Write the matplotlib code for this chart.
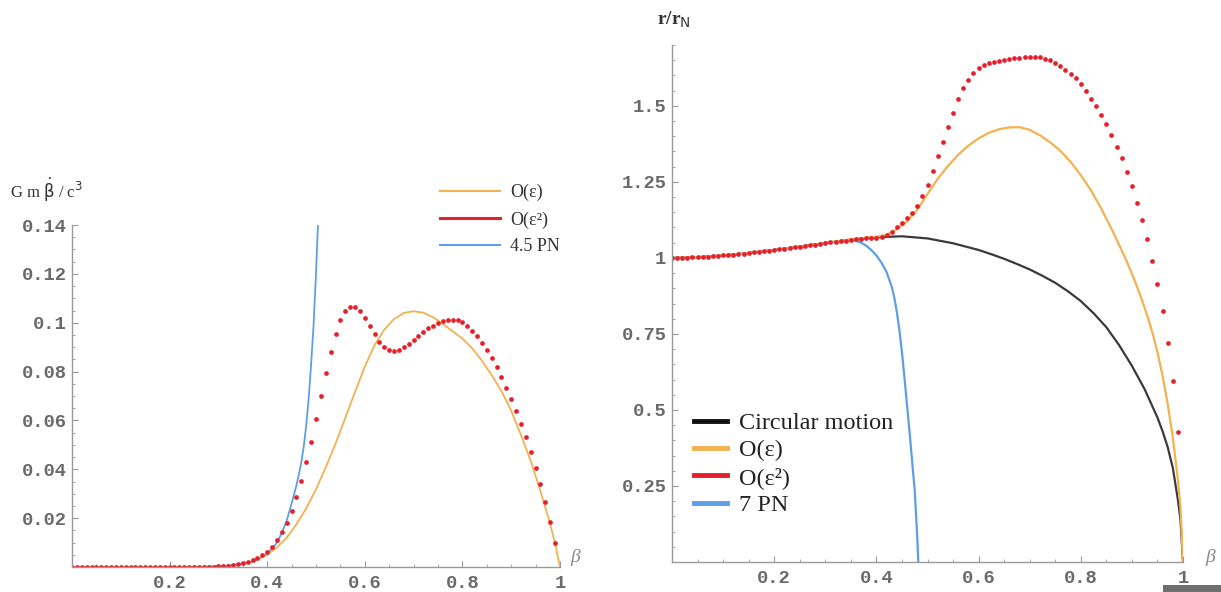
import matplotlib
matplotlib.use("Agg")
import matplotlib.pyplot as plt
import numpy as np
from matplotlib.lines import Line2D
from matplotlib.patches import Rectangle
from matplotlib.ticker import FixedLocator, MultipleLocator

# ---------------- data: left panel (G m beta-dot / c^3) ----------------
left_red_beta = np.arange(100) / 100.0          # sample positions of the dotted O(eps^2) curve
left_red = [0]*28 + [
    0.0001, 0.0002, 0.0003, 0.0004, 0.0006, 0.0008, 0.0011, 0.0015, 0.0021, 0.0028,
    0.0038, 0.0049, 0.0063, 0.0083, 0.0111, 0.0143, 0.0182, 0.0231, 0.0286, 0.0353,
    0.0429, 0.0513, 0.0604, 0.0700, 0.0793, 0.0881, 0.0954, 0.1011, 0.1047, 0.1063,
    0.1063, 0.1047, 0.1019, 0.0988, 0.0954, 0.0922, 0.0899, 0.0888, 0.0884, 0.0888,
    0.0899, 0.0912, 0.0929, 0.0947, 0.0963, 0.0977, 0.0988, 0.0997, 0.1005, 0.1010,
    0.1012, 0.1010, 0.1002, 0.0988, 0.0968, 0.0945, 0.0919, 0.0888, 0.0854, 0.0817,
    0.0776, 0.0734, 0.0686, 0.0638, 0.0587, 0.0532, 0.0470, 0.0406, 0.0340, 0.0266,
    0.0186, 0.0097]

left_orange_beta = [0, 0.1, 0.2, 0.25, 0.28, 0.30, 0.32, 0.34, 0.36, 0.38, 0.40, 0.42,
                    0.44, 0.46, 0.48, 0.50, 0.52, 0.54, 0.56, 0.58, 0.60, 0.62, 0.64,
                    0.66, 0.68, 0.70, 0.72, 0.74, 0.76, 0.78, 0.80, 0.82, 0.84, 0.86,
                    0.88, 0.90, 0.92, 0.94, 0.96, 0.98, 0.99, 1.0]
left_orange = [0, 0, 0, 0, 0.0001, 0.0002, 0.0005, 0.0009, 0.0016, 0.0030, 0.0050, 0.0080,
               0.0120, 0.0175, 0.0240, 0.0318, 0.0408, 0.0505, 0.0610, 0.0717, 0.0820,
               0.0908, 0.0972, 0.1015, 0.1040, 0.1047, 0.1041, 0.1022, 0.0995, 0.0965,
               0.0935, 0.0895, 0.0845, 0.0785, 0.0720, 0.0640, 0.0540, 0.0435, 0.0310,
               0.0175, 0.0095, 0.0]

left_blue_beta = [0, 0.1, 0.2, 0.25, 0.30, 0.33, 0.36, 0.38, 0.40, 0.41, 0.42, 0.43, 0.44,
                  0.45, 0.46, 0.465, 0.47, 0.475, 0.48, 0.485, 0.49, 0.495, 0.50, 0.504]
left_blue = [0, 0, 0, 0.0001, 0.0003, 0.0008, 0.0018, 0.0030, 0.0055, 0.0075, 0.0100,
             0.0140, 0.0190, 0.0260, 0.0335, 0.0380, 0.0430, 0.0495, 0.0580, 0.0690,
             0.0830, 0.0990, 0.1200, 0.1400]

left_labels = ["O(ε)", "O(ε²)", "4.5 PN"]
left_yticks = [0.02, 0.04, 0.06, 0.08, 0.1, 0.12, 0.14]
left_yticklabels = ["0.02", "0.04", "0.06", "0.08", "0.1", "0.12", "0.14"]

# ---------------- data: right panel (r / r_N) ----------------
right_red_beta = np.arange(100) / 100.0
right_red = [
    1.000, 1.000, 1.001, 1.001, 1.002, 1.002, 1.003, 1.004, 1.005, 1.007,
    1.008, 1.009, 1.011, 1.012, 1.014, 1.016, 1.018, 1.020, 1.022, 1.024,
    1.026, 1.028, 1.030, 1.033, 1.035, 1.037, 1.039, 1.042, 1.044, 1.046,
    1.049, 1.051, 1.053, 1.055, 1.057, 1.059, 1.061, 1.062, 1.064, 1.065,
    1.067, 1.070, 1.076, 1.085, 1.101, 1.115, 1.131, 1.148, 1.171, 1.204,
    1.240, 1.287, 1.335, 1.380, 1.429, 1.476, 1.521, 1.557, 1.585, 1.608,
    1.623, 1.634, 1.641, 1.645, 1.648, 1.651, 1.654, 1.656, 1.658, 1.660,
    1.661, 1.661, 1.659, 1.655, 1.650, 1.641, 1.630, 1.618, 1.604, 1.590,
    1.572, 1.550, 1.524, 1.498, 1.470, 1.439, 1.404, 1.366, 1.327, 1.283,
    1.237, 1.182, 1.124, 1.061, 0.990, 0.913, 0.825, 0.720, 0.594, 0.426]

right_black_beta = [0, 0.05, 0.1, 0.15, 0.2, 0.25, 0.3, 0.35, 0.4, 0.45, 0.5, 0.55, 0.6,
                    0.625, 0.65, 0.675, 0.7, 0.725, 0.75, 0.775, 0.8, 0.825, 0.85, 0.875,
                    0.9, 0.925, 0.95, 0.96, 0.97, 0.98, 0.99, 0.995, 1.0]
right_black = [1.0, 1.002, 1.008, 1.016, 1.026, 1.037, 1.049, 1.060, 1.068, 1.071, 1.064,
               1.048, 1.026, 1.012, 0.997, 0.980, 0.962, 0.941, 0.918, 0.890, 0.858,
               0.818, 0.772, 0.713, 0.645, 0.568, 0.475, 0.430, 0.378, 0.310, 0.205,
               0.140, 0.0]

right_orange_beta = [0, 0.05, 0.1, 0.15, 0.2, 0.25, 0.3, 0.35, 0.4, 0.42, 0.44, 0.46, 0.48,
                     0.50, 0.52, 0.54, 0.56, 0.58, 0.60, 0.62, 0.64, 0.66, 0.68, 0.70,
                     0.72, 0.74, 0.76, 0.78, 0.80, 0.82, 0.84, 0.86, 0.88, 0.89, 0.90,
                     0.91, 0.92, 0.93, 0.94, 0.95, 0.96, 0.97, 0.98, 0.99, 0.995, 1.0]
right_orange = [1.0, 1.002, 1.008, 1.016, 1.026, 1.037, 1.049, 1.061, 1.070, 1.076, 1.094,
                1.120, 1.158, 1.210, 1.260, 1.302, 1.339, 1.369, 1.393, 1.411, 1.423,
                1.429, 1.430, 1.421, 1.403, 1.380, 1.352, 1.316, 1.272, 1.222, 1.162,
                1.096, 1.025, 0.988, 0.948, 0.905, 0.860, 0.810, 0.755, 0.690, 0.612,
                0.520, 0.410, 0.270, 0.180, 0.0]

right_blue_beta = [0, 0.05, 0.1, 0.15, 0.2, 0.25, 0.3, 0.33, 0.35, 0.36, 0.37, 0.38, 0.39,
                   0.40, 0.41, 0.42, 0.43, 0.435, 0.44, 0.445, 0.45, 0.455, 0.46, 0.465,
                   0.47, 0.475, 0.48, 0.482]
right_blue = [1.0, 1.002, 1.008, 1.016, 1.026, 1.037, 1.049, 1.055, 1.058, 1.056, 1.050,
              1.040, 1.026, 1.008, 0.984, 0.953, 0.905, 0.870, 0.822, 0.762, 0.690,
              0.605, 0.515, 0.425, 0.330, 0.235, 0.080, 0.0]

right_labels = ["Circular motion", "O(ε)", "O(ε²)", "7 PN"]
right_yticks = [0.25, 0.5, 0.75, 1.0, 1.25, 1.5]
right_yticklabels = ["0.25", "0.5", "0.75", "1", "1.25", "1.5"]

xticks = [0.2, 0.4, 0.6, 0.8, 1.0]
xticklabels = ["0.2", "0.4", "0.6", "0.8", "1"]

# ---------------- styling ----------------
W, H = 1221, 592
ORANGE = "#F3B24F"
RED = "#E5202C"
BLUE = "#5D9FE6"
BLACK = "#3a3a3a"
AXC = "#9a9a9a"
TICKC = "#6a6a6a"
SERIF = ["Liberation Serif", "DejaVu Serif"]
MONO = ["Liberation Mono", "DejaVu Sans Mono"]

fig = plt.figure(figsize=(W / 100, H / 100), dpi=100)
fig.patch.set_facecolor("white")


def px_axes(x0, x1, ytop, ybot):
    return fig.add_axes([x0 / W, 1 - ybot / H, (x1 - x0) / W, (ybot - ytop) / H])


def style_axes(ax, yticks, yticklabels, yminor):
    for s in ("top", "right"):
        ax.spines[s].set_visible(False)
    for s in ("left", "bottom"):
        ax.spines[s].set_color(AXC)
        ax.spines[s].set_linewidth(1.0)
    ax.set_xticks(xticks)
    ax.set_xticklabels(xticklabels)
    ax.set_yticks(yticks)
    ax.set_yticklabels(yticklabels)
    ax.xaxis.set_minor_locator(FixedLocator([v for v in np.arange(0.05, 1.0001, 0.05)]))
    ax.yaxis.set_minor_locator(MultipleLocator(yminor))
    ax.tick_params(which="major", direction="in", length=4, width=0.8, color=AXC,
                   labelcolor=TICKC, labelsize=13.5)
    ax.tick_params(which="minor", direction="in", length=2, width=0.6, color=AXC)
    ax.tick_params(axis="x", which="major", pad=6)
    ax.tick_params(axis="y", which="major", pad=4)
    for lab in ax.get_xticklabels() + ax.get_yticklabels():
        lab.set_fontfamily(MONO)
        lab.set_fontweight("bold")


# ---------------- left panel ----------------
ax1 = px_axes(72, 560, 225, 567)
ax1.set_xlim(0, 1.0)
ax1.set_ylim(0, 0.14)
ax1.plot(left_blue_beta, left_blue, color=BLUE, lw=1.3, solid_capstyle="butt", clip_on=False)
ax1.plot(left_orange_beta, left_orange, color=ORANGE, lw=1.3)
ax1.plot(left_red_beta, left_red, ls="none", marker="o", ms=3.4, color=RED, mec="none")
style_axes(ax1, left_yticks, left_yticklabels, 0.005)

h1 = [Line2D([], [], color=ORANGE, lw=1.5), Line2D([], [], color=RED, lw=2.2),
      Line2D([], [], color=BLUE, lw=1.5)]
leg1 = fig.legend(h1, left_labels, loc="upper left", bbox_to_anchor=(440 / W, 1 - 184 / H),
                  frameon=False, prop={"family": SERIF, "size": 13}, handlelength=3.3,
                  handletextpad=0.6, labelspacing=0.55, borderaxespad=0, borderpad=0)
for t in leg1.get_texts():
    t.set_color("#333333")

fig.text(10 / W, 1 - 190 / H, r"G m $\dot{\mathrm{\beta}}$ / c$^{3}$", fontsize=12,
         family=SERIF, color="#333333", va="center", ha="left")
fig.text(570 / W, 1 - 558 / H, "β", fontsize=14, family=SERIF, style="italic",
         color="#8a8a8a", va="center", ha="left")

# ---------------- right panel ----------------
ax2 = px_axes(672, 1183, 45, 562)
ax2.set_xlim(0, 1.0)
ax2.set_ylim(0, 1.70)
ax2.plot(right_black_beta, right_black, color=BLACK, lw=1.6)
ax2.plot(right_blue_beta, right_blue, color=BLUE, lw=1.6)
ax2.plot(right_orange_beta, right_orange, color=ORANGE, lw=1.6)
ax2.plot(right_red_beta, right_red, ls="none", marker="o", ms=3.4, color=RED, mec="none")
style_axes(ax2, right_yticks, right_yticklabels, 0.05)

h2 = [Line2D([], [], color="#111111", lw=3.5), Line2D([], [], color=ORANGE, lw=3.5),
      Line2D([], [], color=RED, lw=3.5), Line2D([], [], color=BLUE, lw=3.5)]
leg2 = fig.legend(h2, right_labels, loc="upper left", bbox_to_anchor=(694 / W, 1 - 412 / H),
                  frameon=False, prop={"family": SERIF, "size": 17.5}, handlelength=1.35,
                  handletextpad=0.5, labelspacing=0.22, borderaxespad=0, borderpad=0)
for t in leg2.get_texts():
    t.set_color("#222222")

fig.text(657 / W, 1 - 20 / H, r"r/r$_{\mathrm{N}}$", fontsize=14, family=SERIF,
         color="#333333", va="center", ha="left", fontweight="bold")
fig.text(1205 / W, 1 - 558 / H, "β", fontsize=14, family=SERIF, style="italic",
         color="#8a8a8a", va="center", ha="left")

# grey strip at bottom-right corner of the original image
fig.patches.append(Rectangle((1163 / W, 0), (W - 1163) / W, 7 / H, transform=fig.transFigure,
                             facecolor="#6f6f6f", edgecolor="none"))

fig.savefig("out.png", dpi=100)
